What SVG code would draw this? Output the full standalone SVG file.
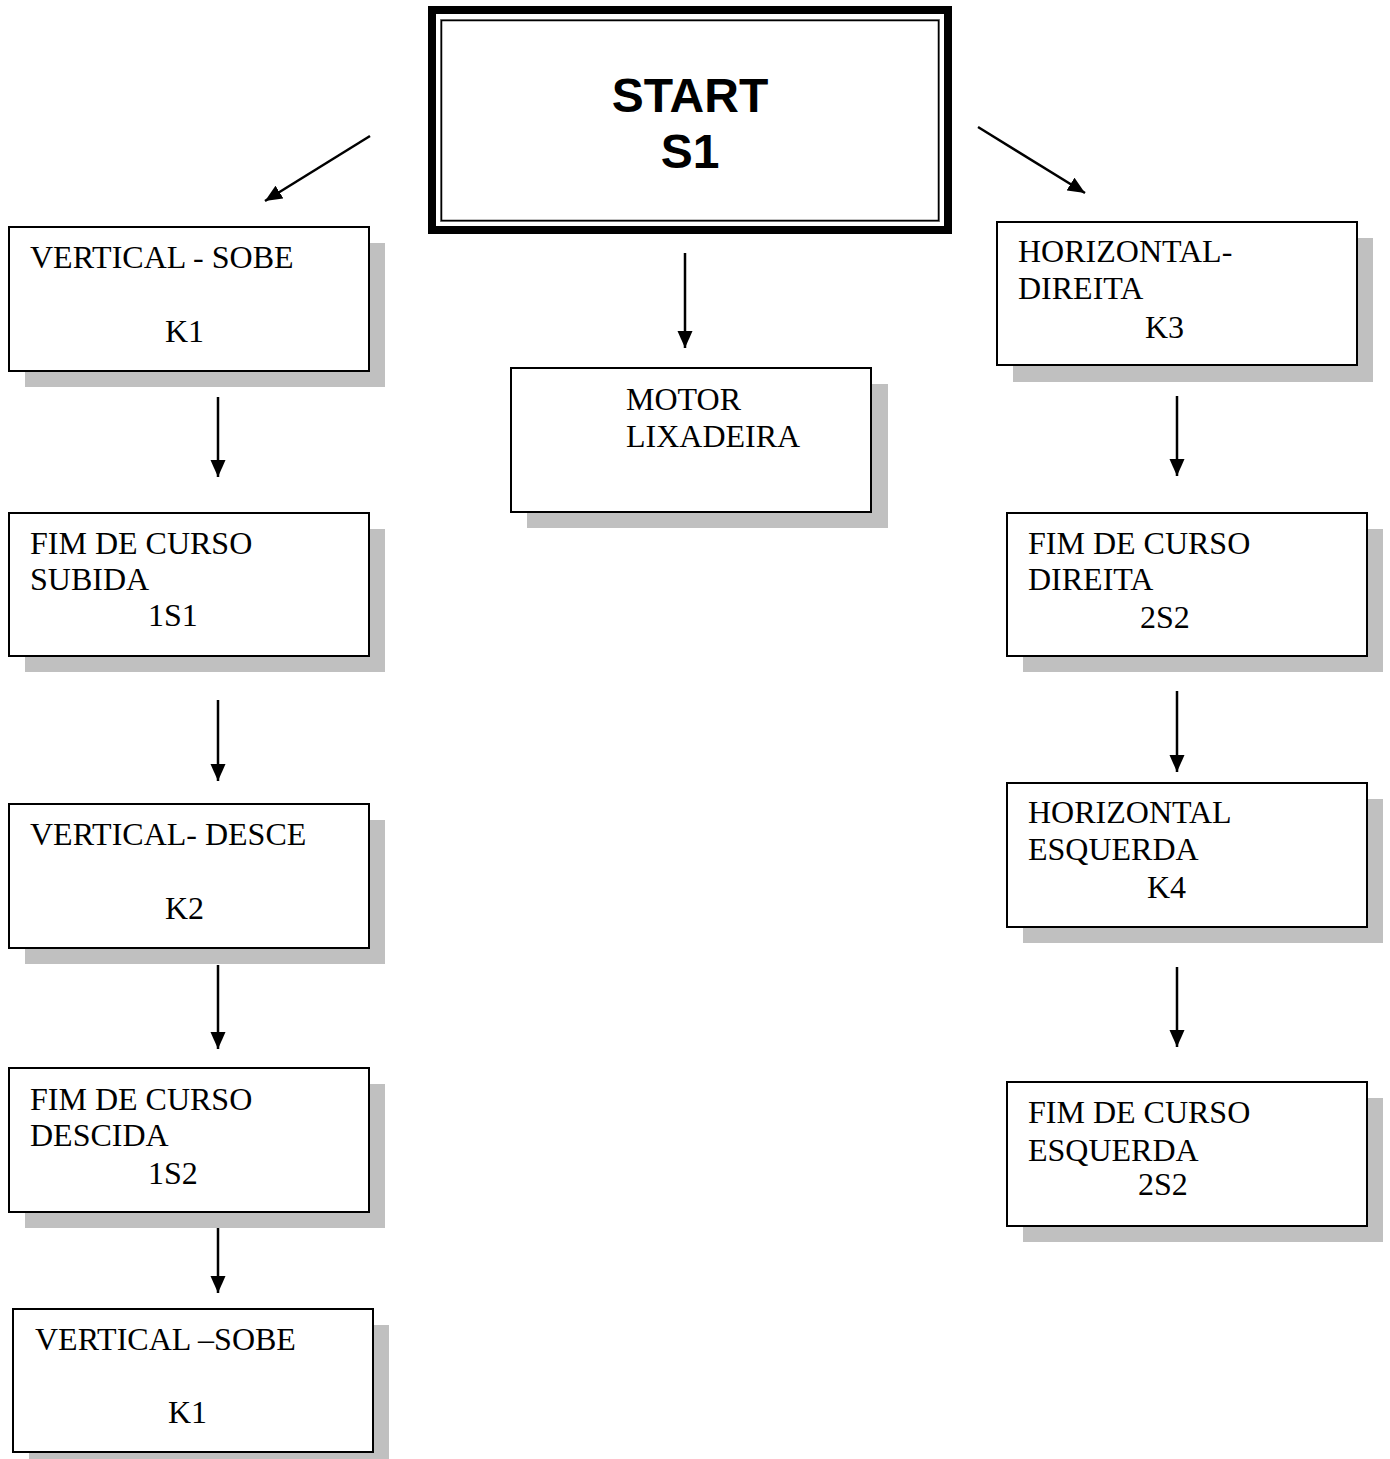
<svg xmlns="http://www.w3.org/2000/svg" width="1390" height="1459" viewBox="0 0 1390 1459">
<style>
.box{fill:#fff;stroke:#000;stroke-width:2}
.sh{fill:#c0c0c0}
.t{font-family:"Liberation Serif","Times New Roman",serif;font-size:32px;fill:#000}
.st{font-family:"Liberation Sans",Arial,sans-serif;font-size:48px;font-weight:bold;fill:#000;text-anchor:middle}
.c{stroke:#000;stroke-width:2.5;fill:none;marker-end:url(#ah)}
</style>
<defs>
<marker id="ah" markerUnits="userSpaceOnUse" markerWidth="18" markerHeight="16" refX="17" refY="8" orient="auto">
<path d="M0,0.5 L17,8 L0,15.5 z" fill="#000"/>
</marker>
</defs>
<rect width="1390" height="1459" fill="#fff"/>
<g id="connectors">
<line class="c" x1="370" y1="136" x2="265" y2="201"/>
<line class="c" x1="978" y1="127" x2="1085" y2="193"/>
<line class="c" x1="685" y1="253" x2="685" y2="348"/>
<line class="c" x1="218" y1="397" x2="218" y2="477"/>
<line class="c" x1="218" y1="700" x2="218" y2="781"/>
<line class="c" x1="218" y1="965" x2="218" y2="1049"/>
<line class="c" x1="218" y1="1212" x2="218" y2="1293"/>
<line class="c" x1="1177" y1="396" x2="1177" y2="476"/>
<line class="c" x1="1177" y1="691" x2="1177" y2="772"/>
<line class="c" x1="1177" y1="967" x2="1177" y2="1047"/>
</g>
<g id="start">
<rect x="432" y="10" width="516" height="220" fill="#fff" stroke="#000" stroke-width="8"/>
<rect x="440.5" y="19.5" width="499" height="202" fill="none" stroke="#888" stroke-width="1"/>
<rect x="441.5" y="20.5" width="497" height="200" fill="none" stroke="#000" stroke-width="1.5"/>
<text class="st" x="690" y="112">START</text>
<text class="st" x="690" y="168">S1</text>
</g>
<g id="n-vsobe">
<rect class="sh" x="25" y="243" width="360" height="144"/>
<rect class="box" x="9" y="227" width="360" height="144"/>
<text class="t" x="30" y="268">VERTICAL - SOBE</text>
<text class="t" x="165" y="342">K1</text>
</g>
<g id="n-fcsubida">
<rect class="sh" x="25" y="529" width="360" height="143"/>
<rect class="box" x="9" y="513" width="360" height="143"/>
<text class="t" x="30" y="554">FIM DE CURSO</text>
<text class="t" x="30" y="590">SUBIDA</text>
<text class="t" x="148" y="626">1S1</text>
</g>
<g id="n-vdesce">
<rect class="sh" x="25" y="820" width="360" height="144"/>
<rect class="box" x="9" y="804" width="360" height="144"/>
<text class="t" x="30" y="845">VERTICAL- DESCE</text>
<text class="t" x="165" y="919">K2</text>
</g>
<g id="n-fcdescida">
<rect class="sh" x="25" y="1084" width="360" height="144"/>
<rect class="box" x="9" y="1068" width="360" height="144"/>
<text class="t" x="30" y="1110">FIM DE CURSO</text>
<text class="t" x="30" y="1146">DESCIDA</text>
<text class="t" x="148" y="1184">1S2</text>
</g>
<g id="n-vsobe2">
<rect class="sh" x="29" y="1325" width="360" height="144"/>
<rect class="box" x="13" y="1309" width="360" height="143"/>
<text class="t" x="35" y="1350">VERTICAL –SOBE</text>
<text class="t" x="168" y="1423">K1</text>
</g>
<g id="n-motor">
<rect class="sh" x="527" y="384" width="361" height="144"/>
<rect class="box" x="511" y="368" width="360" height="144"/>
<text class="t" x="626" y="410">MOTOR</text>
<text class="t" x="626" y="447">LIXADEIRA</text>
</g>
<g id="n-hdireita">
<rect class="sh" x="1013" y="238" width="360" height="144"/>
<rect class="box" x="997" y="222" width="360" height="143"/>
<text class="t" x="1018" y="262">HORIZONTAL-</text>
<text class="t" x="1018" y="299">DIREITA</text>
<text class="t" x="1145" y="338">K3</text>
</g>
<g id="n-fcdireita">
<rect class="sh" x="1023" y="529" width="360" height="143"/>
<rect class="box" x="1007" y="513" width="360" height="143"/>
<text class="t" x="1028" y="554">FIM DE CURSO</text>
<text class="t" x="1028" y="590">DIREITA</text>
<text class="t" x="1140" y="628">2S2</text>
</g>
<g id="n-hesquerda">
<rect class="sh" x="1023" y="799" width="360" height="144"/>
<rect class="box" x="1007" y="783" width="360" height="144"/>
<text class="t" x="1028" y="823">HORIZONTAL</text>
<text class="t" x="1028" y="860">ESQUERDA</text>
<text class="t" x="1147" y="898">K4</text>
</g>
<g id="n-fcesquerda">
<rect class="sh" x="1023" y="1098" width="360" height="144"/>
<rect class="box" x="1007" y="1082" width="360" height="144"/>
<text class="t" x="1028" y="1123">FIM DE CURSO</text>
<text class="t" x="1028" y="1161">ESQUERDA</text>
<text class="t" x="1138" y="1195">2S2</text>
</g>
</svg>
